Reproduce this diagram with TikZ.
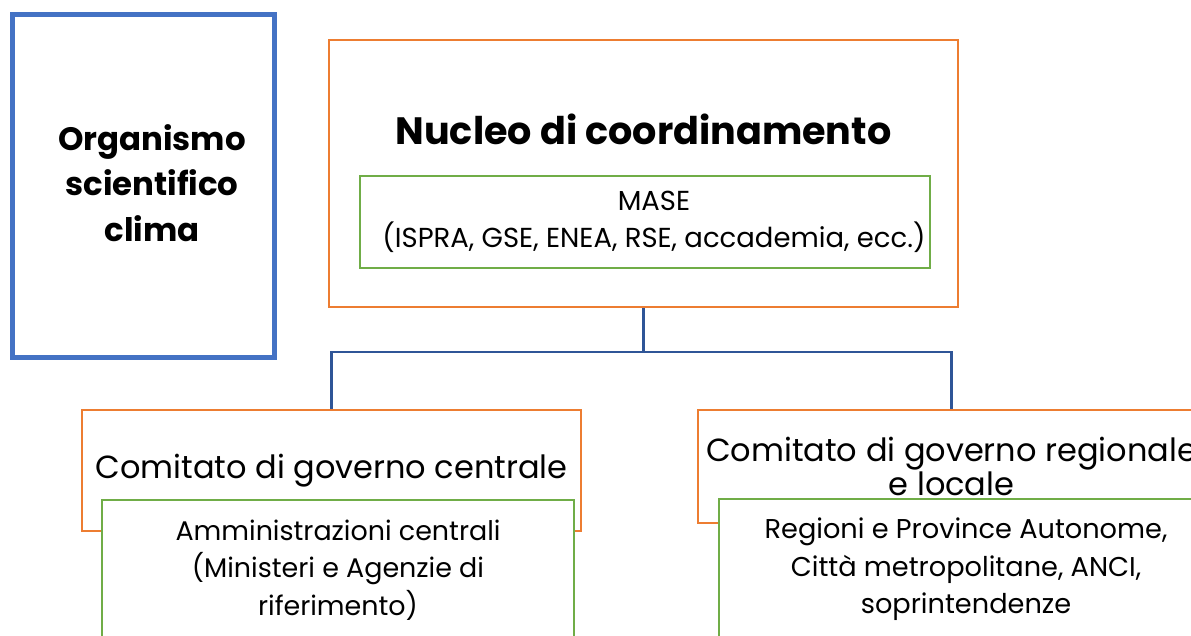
\documentclass[tikz,border=0pt]{standalone}
\usepackage{fontspec}
\setmainfont{Poppins}
\usetikzlibrary{calc}

\definecolor{boxblue}{HTML}{4472C4}
\definecolor{linkblue}{HTML}{2F5597}
\definecolor{boxorange}{HTML}{ED7D31}
\definecolor{boxgreen}{HTML}{70AD47}

\begin{document}
\begin{tikzpicture}[
    x=0.75pt, y=-0.75pt,
    bluebox/.style={draw=boxblue, line width=3.75pt, fill=white, inner sep=0pt},
    orangebox/.style={draw=boxorange, line width=2pt, fill=white, inner sep=0pt, align=center},
    greenbox/.style={draw=boxgreen, line width=2pt, fill=white, inner sep=0pt, align=center},
    link/.style={draw=linkblue, line width=1.6pt}
]
    \useasboundingbox (0,0) rectangle (1191,635);
    \clip (0,0) rectangle (1191,635);

    % --- Left: scientific body ---
    \node[bluebox, minimum width=196.5pt, minimum height=257.25pt] (organismo) at (143.5,186) {};
    \node[font=\bfseries\fontsize{24.3}{34}\selectfont, align=center] (organismotext) at (152,183)
        {Organismo\\scientifico\\clima};

    % --- Top: coordination core ---
    \node[orangebox, minimum width=471.75pt, minimum height=200.25pt] (nucleo) at (643.5,173.5) {};
    \node[font=\bfseries\fontsize{28.6}{32}\selectfont] (nucleotext) at (643.5,129) {Nucleo di coordinamento};
    \node[greenbox, minimum width=427.5pt, minimum height=69pt] (mase) at (645,222) {};
    \node[font=\fontsize{20.6}{28}\selectfont, align=center] (masetext) at (654,222)
        {MASE\\(ISPRA, GSE, ENEA, RSE, accademia, ecc.)};

    % --- Bottom left: central committee ---
    \node[orangebox, minimum width=374.25pt, minimum height=90.75pt,
          font=\fontsize{24}{28}\selectfont] (centrale) at (331.5,470.5)
        {Comitato di governo centrale};
    \node[greenbox, minimum width=354pt, minimum height=105pt,
          font=\fontsize{20.2}{28}\selectfont] (amministrazioni) at (338,570)
        {Amministrazioni centrali\\(Ministeri e Agenzie di\\riferimento)};

    % --- Bottom right: regional committee ---
    \node[orangebox, minimum width=380.25pt, minimum height=84.75pt,
          font=\fontsize{24}{26}\selectfont] (regionale) at (951.5,466.5)
        {Comitato di governo regionale\\e locale};
    \node[greenbox, minimum width=370.5pt, minimum height=105.75pt,
          font=\fontsize{20.4}{28}\selectfont] (regioni) at (966,569.5)
        {Regioni e Province Autonome,\\Città metropolitane, ANCI,\\soprintendenze};

    % --- Connectors ---
    \coordinate (bus) at (643.5,352);
    \draw[link] (nucleo.south) -- (bus) -| (centrale.north);
    \draw[link] (bus) -| (regionale.north);

\end{tikzpicture}
\end{document}
